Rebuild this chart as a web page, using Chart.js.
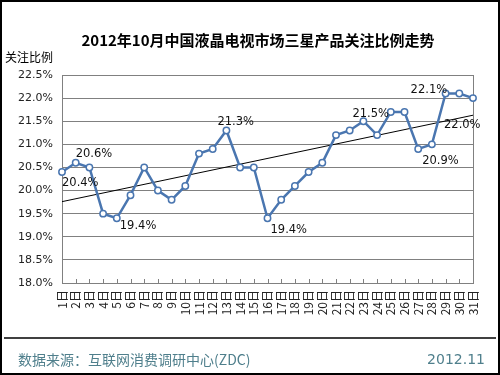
<!DOCTYPE html>
<html>
<head>
<meta charset="utf-8">
<script src="https://cdn.jsdelivr.net/npm/chart.js@4/dist/chart.umd.min.js"></script>
<style>
  html, body { margin: 0; padding: 0; background: #fff; }
  #wrap { width: 500px; height: 375px; position: relative; }
</style>
</head>
<body>
<div id="wrap"><canvas id="shareChart" width="500" height="375"></canvas></div>
<script>
// data
const days = ['1日','2日','3日','4日','5日','6日','7日','8日','9日','10日','11日','12日','13日','14日','15日','16日',
              '17日','18日','19日','20日','21日','22日','23日','24日','25日','26日','27日','28日','29日','30日','31日'];
const share = [20.4, 20.6, 20.5, 19.5, 19.4, 19.9, 20.5, 20.0, 19.8, 20.1, 20.8, 20.9, 21.3, 20.5, 20.5, 19.4,
               19.8, 20.1, 20.4, 20.6, 21.2, 21.3, 21.5, 21.2, 21.7, 21.7, 20.9, 21.0, 22.1, 22.1, 22.0];
const trendEnds = [19.76, 21.63];   // trend line at 1日 and 31日
const yTicks = [18.0, 18.5, 19.0, 19.5, 20.0, 20.5, 21.0, 21.5, 22.0, 22.5];

// which points get a value label, and where the text sits
const callouts = [
    { i: 0,  dx: 0,   dy: 11 },
    { i: 1,  dx: 0,   dy: -9 },
    { i: 4,  dx: 3,   dy: 8 },
    { i: 12, dx: -9,  dy: -8 },
    { i: 15, dx: 3,   dy: 12 },
    { i: 22, dx: -11, dy: -7 },
    { i: 26, dx: 4,   dy: 12 },
    { i: 28, dx: -35, dy: -3 },
    { i: 30, dx: -29, dy: 27 }
];

const trendData = days.map((d, i) => i === 0 ? trendEnds[0] : (i === days.length - 1 ? trendEnds[1] : null));

const decor = {
    id: 'decor',
    afterDraw(chart) {
        const ctx = chart.ctx;
        const x = chart.scales.x, y = chart.scales.y;
        const area = chart.chartArea;
        ctx.save();

        // inside tick marks on the x axis
        ctx.strokeStyle = '#808080';
        ctx.lineWidth = 1;
        for (let i = 0; i < days.length; i++) {
            const px = Math.round(x.getPixelForValue(i)) + 0.5;
            ctx.beginPath();
            ctx.moveTo(px, area.bottom);
            ctx.lineTo(px, area.bottom - 4);
            ctx.stroke();
        }

        // value labels
        ctx.fillStyle = '#111';
        ctx.font = '11.5px "DejaVu Sans"';
        ctx.textAlign = 'left';
        ctx.textBaseline = 'middle';
        callouts.forEach(c => {
            const px = x.getPixelForValue(c.i);
            const py = y.getPixelForValue(share[c.i]);
            ctx.fillText(share[c.i].toFixed(1) + '%', px + c.dx, py + c.dy);
        });

        // title and axis caption
        ctx.fillStyle = '#000';
        ctx.font = 'bold 15px "Noto Sans CJK SC"';
        ctx.textAlign = 'center';
        ctx.fillText('2012年10月中国液晶电视市场三星产品关注比例走势', 258, 40);
        ctx.font = '12px "Noto Sans CJK SC"';
        ctx.textAlign = 'left';
        ctx.fillText('关注比例', 5, 57);

        // footer
        ctx.strokeStyle = '#000';
        ctx.lineWidth = 1.5;
        ctx.beginPath();
        ctx.moveTo(4, 338);
        ctx.lineTo(496, 338);
        ctx.stroke();
        ctx.fillStyle = '#4f7f8c';
        ctx.font = '14px "Noto Sans CJK SC"';
        ctx.fillText('数据来源：互联网消费调研中心(ZDC)', 18, 360);
        ctx.textAlign = 'right';
        ctx.font = '14px "DejaVu Sans"';
        ctx.fillText('2012.11', 485, 360);

        // outer frame
        ctx.strokeStyle = '#000';
        ctx.lineWidth = 2;
        ctx.strokeRect(1, 1, 498, 373);
        ctx.restore();
    }
};

new Chart(document.getElementById('shareChart'), {
    type: 'line',
    data: {
        labels: days,
        datasets: [{
            label: '关注比例',
            data: share,
            borderColor: '#4a76b0',
            borderWidth: 2.5,
            pointRadius: 3.2,
            pointBackgroundColor: '#fff',
            pointBorderColor: '#4a76b0',
            pointBorderWidth: 1.5,
            tension: 0,
            order: 1
        }, {
            label: '趋势',
            data: trendData,
            spanGaps: true,
            borderColor: '#000',
            borderWidth: 1,
            pointRadius: 0,
            order: 2
        }]
    },
    options: {
        responsive: false,
        animation: false,
        layout: { padding: { left: 0, top: 75, right: 27, bottom: 32 } },
        plugins: {
            legend: { display: false },
            tooltip: { enabled: false }
        },
        scales: {
            x: {
                offset: false,
                grid: { display: false, drawTicks: false },
                border: { display: true, color: '#808080', width: 1 },
                ticks: {
                    autoSkip: false,
                    maxRotation: 90,
                    minRotation: 90,
                    padding: 7,
                    color: '#222',
                    font: { family: '"Noto Sans CJK SC"', size: 12 }
                },
                afterFit(scale) { scale.height = 60; }
            },
            y: {
                min: 18,
                max: 22.5,
                afterBuildTicks(scale) { scale.ticks = yTicks.map(v => ({ value: v })); },
                grid: { color: '#808080', lineWidth: 1, drawTicks: false },
                border: { display: true, color: '#808080', width: 1 },
                ticks: {
                    padding: 9,
                    color: '#222',
                    font: { family: '"DejaVu Sans"', size: 11 },
                    callback: v => Number(v).toFixed(1) + '%'
                },
                afterFit(scale) { scale.width = 62; }
            },
            y2: {
                position: 'right',
                min: 18,
                max: 22.5,
                grid: { display: false },
                border: { display: true, color: '#808080', width: 1 },
                ticks: { display: false },
                afterFit(scale) { scale.width = 0; }
            }
        }
    },
    plugins: [decor]
});
</script>
</body>
</html>
